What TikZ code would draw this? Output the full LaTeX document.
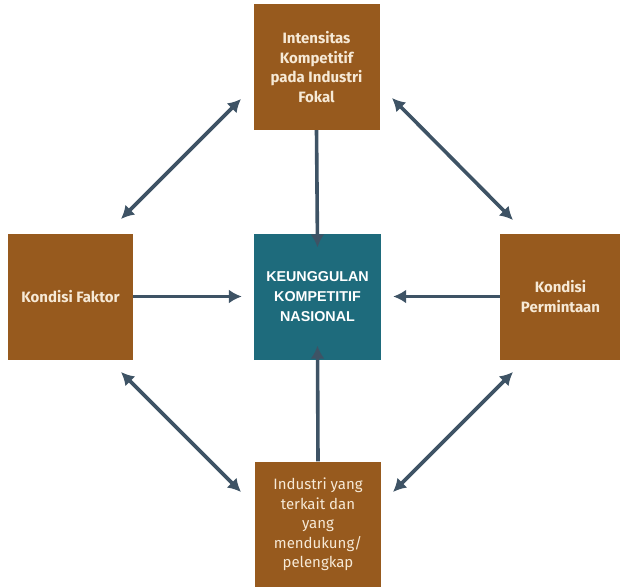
\documentclass[tikz,border=0pt]{standalone}
\usepackage{fontspec}
\setmainfont{Fira Sans}
\newfontfamily\capsfont{Liberation Sans}
\usetikzlibrary{arrows.meta}
\definecolor{boxbrown}{HTML}{975A1E}
\definecolor{boxteal}{HTML}{1E6B7C}
\definecolor{arrowslate}{HTML}{3E5365}
\definecolor{textcream}{HTML}{F6E9D6}
\begin{document}
\begin{tikzpicture}[x=1pt,y=-1pt,
  factor/.style={fill=boxbrown, draw=none, text=textcream, inner sep=0pt,
    minimum width=#1, minimum height=126pt, align=center,
    font=\fontsize{15}{19.5}\selectfont\bfseries},
  factor/.default=126pt,
  core/.style={fill=boxteal, draw=none, text=white, inner sep=0pt,
    minimum width=127pt, minimum height=126pt, align=center,
    font=\capsfont\fontsize{14.3}{20}\selectfont\bfseries},
  link/.style={draw=arrowslate, line width=3.6pt,
    -{Latex[length=13pt,width=14pt]}},
  dlink/.style={draw=arrowslate, line width=3.6pt,
    {Latex[length=13pt,width=14pt]}-{Latex[length=13pt,width=14pt]}}]
\useasboundingbox (0,0) rectangle (620,586);

% the five determinants around the national advantage
\node[factor] (top) at (316.5,67) {Intensitas\\Kompetitif\\pada Industri\\Fokal};
\node[factor=125pt] (left) at (70.5,296.5) {Kondisi Faktor};
\node[core] (center) at (317.5,296.5) {KEUNGGULAN\\KOMPETITIF\\NASIONAL};
\node[factor=121pt] (right) at (560.5,296.5) {Kondisi\\Permintaan};
\node[factor, font=\fontsize{15}{19.5}\selectfont]
  (bottom) at (318,524.5) {Industri yang\\terkait dan\\yang\\mendukung/\\pelengkap};

% arrows into the centre
\draw[link] (top.south) -- ([yshift=-14pt]center.north);
\draw[link] (left.east) -- ([xshift=-12pt]center.west);
\draw[link] (right.west) -- ([xshift=12pt]center.east);
\draw[link] (bottom.north) -- ([yshift=14pt]center.south);

% two-way links between neighbouring determinants
\coordinate (tlA) at (241,99);
\coordinate (tlB) at (121,219);
\coordinate (trA) at (392,98);
\coordinate (trB) at (513,220);
\coordinate (blA) at (121,372);
\coordinate (blB) at (241,492);
\coordinate (brA) at (513,372);
\coordinate (brB) at (393,492);
\draw[dlink] (tlA) -- (tlB);
\draw[dlink] (trA) -- (trB);
\draw[dlink] (blA) -- (blB);
\draw[dlink] (brA) -- (brB);
\end{tikzpicture}
\end{document}
